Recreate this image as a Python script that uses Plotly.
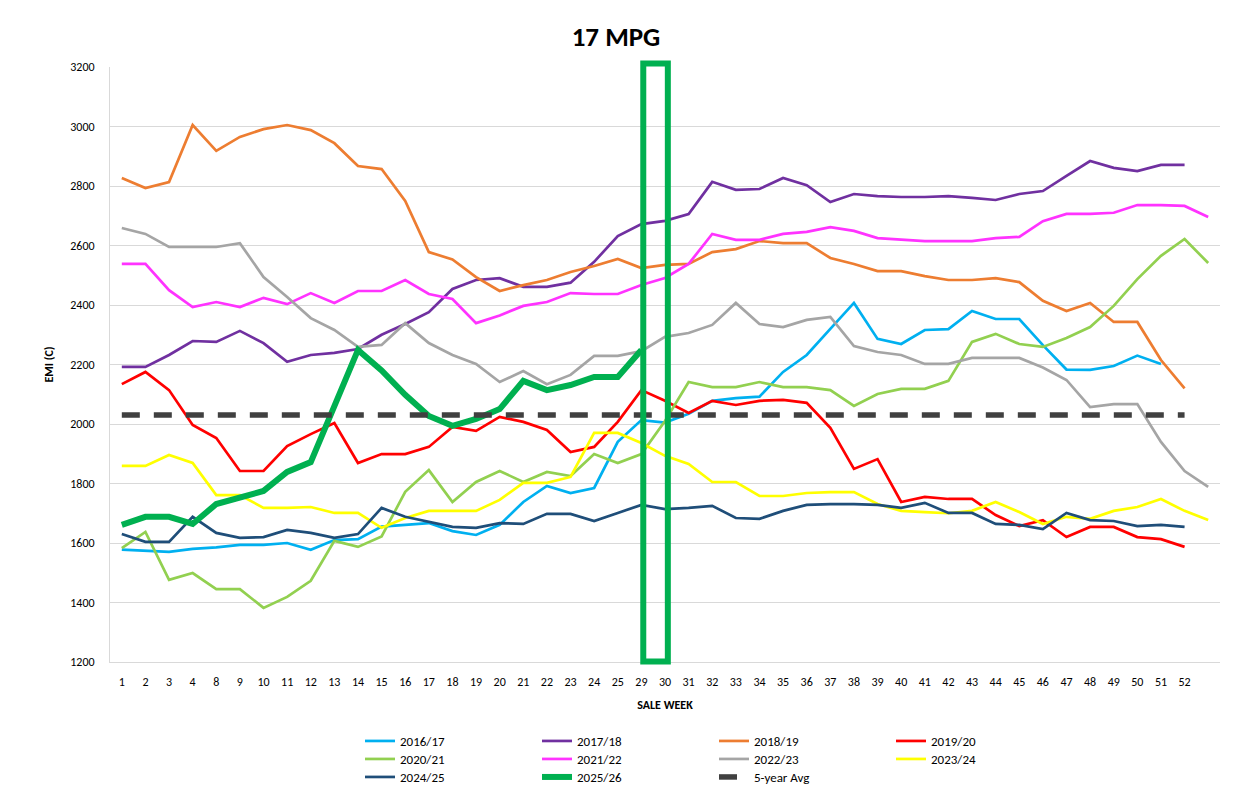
import plotly.graph_objects as go

week_labels = ["1", "2", "3", "4", "8", "9", "10", "11", "12", "13", "14", "15", "16", "17",
               "18", "19", "20", "21", "22", "23", "24", "25", "29", "30", "31", "32", "33",
               "34", "35", "36", "37", "38", "39", "40", "41", "42", "43", "44", "45", "46",
               "47", "48", "49", "50", "51", "52", ""]

s2016_17 = [1578, 1575, 1570, 1580, 1585, 1594, 1594, 1600, 1577, 1610, 1613, 1655, 1661, 1667,
            1640, 1627, 1661, 1738, 1792, 1768, 1785, 1940, 2013, 2005, 2034, 2078, 2087, 2092,
            2175, 2232, 2320, 2407, 2286, 2269, 2316, 2319, 2380, 2353, 2353, 2265, 2183, 2182,
            2195, 2230, 2202, None, None]
s2017_18 = [2192, 2192, 2232, 2279, 2276, 2313, 2272, 2209, 2232, 2239, 2252, 2300, 2336, 2376,
            2454, 2484, 2490, 2461, 2461, 2475, 2545, 2632, 2672, 2683, 2706, 2814, 2787, 2790,
            2827, 2803, 2746, 2773, 2766, 2763, 2763, 2766, 2760, 2753, 2773, 2783, 2834, 2884,
            2861, 2850, 2871, 2871, None]
s2018_19 = [2827, 2793, 2813, 3005, 2918, 2965, 2991, 3005, 2988, 2944, 2867, 2857, 2750, 2578,
            2553, 2494, 2447, 2467, 2484, 2511, 2531, 2555, 2524, 2535, 2538, 2578, 2588, 2615,
            2608, 2608, 2558, 2538, 2514, 2514, 2497, 2484, 2484, 2490, 2477, 2414, 2380, 2407,
            2343, 2343, 2215, 2120, None]
s2019_20 = [2134, 2175, 2114, 1997, 1953, 1842, 1842, 1926, 1966, 2003, 1869, 1899, 1899, 1923,
            1990, 1977, 2024, 2007, 1980, 1906, 1923, 2007, 2114, 2078, 2037, 2078, 2064, 2078,
            2081, 2071, 1987, 1849, 1882, 1738, 1755, 1748, 1748, 1694, 1657, 1677, 1620, 1654,
            1654, 1620, 1613, 1587, None]
s2020_21 = [1583, 1637, 1476, 1499, 1445, 1445, 1382, 1419, 1473, 1607, 1587, 1622, 1772, 1845,
            1738, 1805, 1842, 1805, 1839, 1825, 1899, 1869, 1899, 2010, 2141, 2124, 2124, 2141,
            2124, 2124, 2114, 2061, 2101, 2118, 2118, 2145, 2276, 2303, 2269, 2259, 2289, 2326,
            2397, 2487, 2565, 2622, 2541]
s2021_22 = [2538, 2538, 2450, 2393, 2410, 2393, 2424, 2403, 2440, 2407, 2447, 2447, 2484, 2437,
            2420, 2339, 2365, 2397, 2410, 2440, 2437, 2437, 2467, 2491, 2538, 2639, 2619, 2619,
            2639, 2646, 2662, 2649, 2625, 2619, 2615, 2615, 2615, 2625, 2629, 2682, 2706, 2706,
            2710, 2736, 2736, 2733, 2696]
s2022_23 = [2659, 2639, 2595, 2595, 2595, 2608, 2494, 2427, 2356, 2316, 2259, 2266, 2339, 2272,
            2232, 2202, 2141, 2178, 2134, 2165, 2229, 2229, 2245, 2293, 2306, 2333, 2407, 2336,
            2326, 2350, 2360, 2262, 2242, 2232, 2202, 2202, 2222, 2222, 2222, 2190, 2148, 2057,
            2067, 2067, 1940, 1842, 1789]
s2023_24 = [1859, 1859, 1896, 1869, 1761, 1761, 1718, 1718, 1721, 1701, 1701, 1651, 1684, 1708,
            1708, 1708, 1745, 1802, 1802, 1822, 1970, 1970, 1936, 1893, 1866, 1805, 1805, 1758,
            1758, 1768, 1771, 1771, 1731, 1708, 1704, 1700, 1708, 1738, 1704, 1664, 1688, 1681,
            1708, 1721, 1748, 1708, 1677]
s2024_25 = [1630, 1604, 1604, 1688, 1634, 1617, 1620, 1644, 1634, 1617, 1630, 1718, 1688, 1671,
            1654, 1651, 1667, 1664, 1698, 1698, 1674, 1701, 1728, 1714, 1718, 1725, 1684, 1681,
            1708, 1728, 1731, 1731, 1728, 1718, 1735, 1701, 1701, 1664, 1661, 1647, 1701, 1677,
            1674, 1657, 1661, 1654, None]
s2025_26 = [1661, 1688, 1688, 1664, 1731, 1751, 1775, 1839, 1872, 2060, 2249, 2180, 2098, 2027,
            1994, 2017, 2050, 2145, 2114, 2131, 2158, 2158, 2249]
avg_5yr = [2030, 2030, 2030, 2030, 2030, 2030, 2030, 2030, 2030, 2030, 2030, 2030, 2030, 2030,
           2030, 2030, 2030, 2030, 2030, 2030, 2030, 2030, 2030, 2030, 2030, 2030, 2030, 2030,
           2030, 2030, 2030, 2030, 2030, 2030, 2030, 2030, 2030, 2030, 2030, 2030, 2030, 2030,
           2030, 2030, 2030, 2030]

highlight_weeks = ("29", "30")

series = [
    ("2016/17", s2016_17, "#00B0F0", 2.7, "solid", "legend"),
    ("2017/18", s2017_18, "#7030A0", 2.7, "solid", "legend"),
    ("2018/19", s2018_19, "#ED7D31", 2.7, "solid", "legend"),
    ("2019/20", s2019_20, "#FF0000", 2.7, "solid", "legend"),
    ("2020/21", s2020_21, "#92D050", 2.7, "solid", "legend2"),
    ("2021/22", s2021_22, "#FF33FF", 2.7, "solid", "legend2"),
    ("2022/23", s2022_23, "#A5A5A5", 2.7, "solid", "legend2"),
    ("2023/24", s2023_24, "#FFFF00", 2.7, "solid", "legend2"),
    ("2024/25", s2024_25, "#1F4E79", 2.7, "solid", "legend3"),
    ("2025/26", s2025_26, "#00B050", 6, "solid", "legend3"),
    ("5-year Avg", avg_5yr, "#404040", 5.5, "18px,14px", "legend3"),
]

FONT = "Carlito, Open Sans, sans-serif"
xs = list(range(len(week_labels)))
N = len(week_labels)

# page offset of the figure (default body margin) is 8px
W, H = 1225, 802
L, R, T, B = 102, 13, 59, 148
PH = H - T - B

fig = go.Figure()
for name, vals, color, width, dash, leg in series:
    fig.add_trace(go.Scatter(
        x=xs[:len(vals)], y=vals, name=name, mode="lines",
        line=dict(color=color, width=width, dash=dash),
        legend=leg, connectgaps=False,
    ))

# highlight box around the current weeks (domain refs so it is not clipped)
i0 = week_labels.index(highlight_weeks[0])
i1 = week_labels.index(highlight_weeks[1])
fig.add_shape(type="rect", xref="x domain", yref="y domain",
              x0=(i0 + 0.5 + 0.08) / N, x1=(i1 + 0.5 + 0.12) / N,
              y0=0.001, y1=1.006,
              line=dict(color="#00B050", width=6), fillcolor="rgba(0,0,0,0)", layer="above")

leg_common = dict(orientation="h", xanchor="left", yanchor="top",
                  entrywidth=132, entrywidthmode="pixels",
                  font=dict(family=FONT, size=13, color="#000000"),
                  bgcolor="rgba(0,0,0,0)", itemwidth=30, traceorder="normal")
lx = (352 - L) / (W - L - R)
plot_bottom = H - B
fig.update_layout(
    width=W, height=H,
    margin=dict(l=L, r=R, t=T, b=B),
    paper_bgcolor="white", plot_bgcolor="white",
    title=dict(text="<b>17 MPG</b>", x=608 / W, xanchor="center", y=1 - 29 / H, yanchor="middle",
               font=dict(family=FONT, size=27, color="#000000")),
    showlegend=True,
    legend=dict(x=lx, y=(plot_bottom - 718) / PH, **leg_common),
    legend2=dict(x=lx, y=(plot_bottom - 736) / PH, **leg_common),
    legend3=dict(x=lx, y=(plot_bottom - 754) / PH, **leg_common),
    xaxis=dict(
        range=[-0.5, N - 0.5],
        tickmode="array", tickvals=xs, ticktext=week_labels,
        showgrid=False, zeroline=False,
        showline=True, linecolor="#D9D9D9", linewidth=1,
        ticks="", ticklabelstandoff=9,
        tickfont=dict(family=FONT, size=12, color="#000000"),
        title=dict(text="<b>SALE WEEK</b>", standoff=12,
                   font=dict(family=FONT, size=12, color="#000000")),
    ),
    yaxis=dict(
        range=[1200, 3200], dtick=200, tick0=1200,
        showgrid=True, gridcolor="#D9D9D9", gridwidth=1,
        zeroline=False, showline=True, linecolor="#D9D9D9", linewidth=1,
        ticks="", ticklabelstandoff=12,
        tickfont=dict(family=FONT, size=12, color="#000000"),
        title=dict(text="<b>EMI (C)</b>", standoff=14,
                   font=dict(family=FONT, size=12, color="#000000")),
    ),
)

fig.write_html("out.html")
